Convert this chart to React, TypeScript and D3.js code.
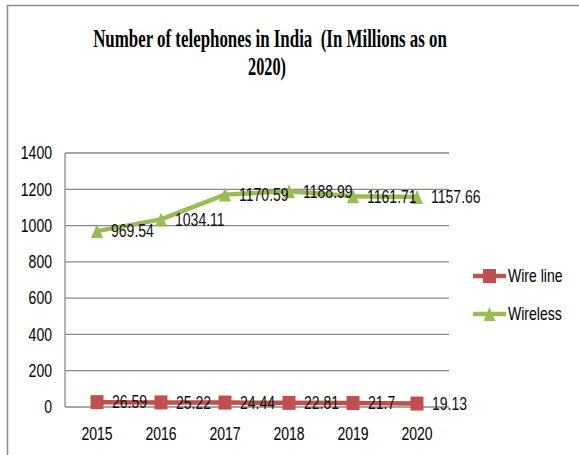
import React, { useLayoutEffect, useRef, useState } from "react";
import * as d3 from "d3";

const years = ["2015", "2016", "2017", "2018", "2019", "2020"];
const wireLine = [26.59, 25.22, 24.44, 22.81, 21.7, 19.13];
const wireless = [969.54, 1034.11, 1170.59, 1188.99, 1161.71, 1157.66];
const wirelessLabels = ["969.54", "1034.11", "1170.59", "1188.99", "1161.71", "1157.66"];
const wireLabels = ["26.59", "25.22", "24.44", "22.81", "21.7", "19.13"];
const yTicks = [0, 200, 400, 600, 800, 1000, 1200, 1400];
const seriesNames = ["Wire line", "Wireless"];
const titleLines = ["Number of telephones in India  (In Millions as on", "2020)"];

const W = 579, H = 455;
const left = 65, right = 449, top = 153, bottom = 407;
const RED = "#C0504D";
const GREEN = "#9BBB59";
const GRID = "#8a8a8a";
const FONT = "'Liberation Sans', Arial, sans-serif";
const SX = 0.78;

function T({ x, y, anchor = "start", children, fill = "#000", dy = "0.35em" }: any) {
  return (
    <g transform={`translate(${x},${y}) scale(${SX},1)`}>
      <text textAnchor={anchor} dy={dy} fontFamily={FONT} fontSize={18} fill={fill}>{children}</text>
    </g>
  );
}

function FitTitle({ x, y, width, children }: any) {
  const ref = useRef<SVGTextElement>(null);
  const [s, setS] = useState(1);
  useLayoutEffect(() => {
    if (ref.current) {
      const w = ref.current.getComputedTextLength();
      if (w > 0) setS(width / w);
    }
  }, [width]);
  return (
    <g transform={`translate(${x},${y}) scale(${s},1)`}>
      <text ref={ref} textAnchor="middle" fontFamily="'Liberation Serif', 'Times New Roman', serif" fontWeight="bold" fontSize={26} fill="#000" style={{ whiteSpace: "pre" }}>{children}</text>
    </g>
  );
}

export default function App() {
  const x = d3.scaleBand<string>().domain(years).range([left, right]);
  const y = d3.scaleLinear().domain([0, 1400]).range([bottom, top]);
  const cx = (yr: string) => (x(yr) as number) + x.bandwidth() / 2;
  const line = d3.line<number>().x((_, i) => cx(years[i])).y((d) => y(d));

  const tri = (px: number, py: number) => `M${px - 6},${py + 7} L${px},${py - 7} L${px + 6},${py + 7} Z`;

  return (
    <div style={{ position: "absolute", left: 0, top: 0 }}>
      <svg width={W} height={H} style={{ display: "block", background: "#fff" }}>
        <path d={`M7.5,${H} V5.5 H${W}`} fill="none" stroke="#8c8c8c" strokeWidth={1.5} />
        <FitTitle x={270} y={47} width={354}>{titleLines[0]}</FitTitle>
        <FitTitle x={267} y={75} width={38}>{titleLines[1]}</FitTitle>

        {yTicks.map((t) => (
          <g key={t}>
            {t > 0 && <line x1={left} x2={right} y1={y(t)} y2={y(t)} stroke={GRID} strokeWidth={1.3} />}
            <T x={52} y={y(t)} anchor="end">{t}</T>
          </g>
        ))}
        <line x1={left} x2={left} y1={top} y2={bottom} stroke={GRID} strokeWidth={1.3} />
        <line x1={left} x2={right} y1={bottom} y2={bottom} stroke={GRID} strokeWidth={1.3} />

        {years.map((yr) => (
          <T key={yr} x={cx(yr)} y={440} anchor="middle" dy="0">{yr}</T>
        ))}

        <path d={line(wireless) || ""} fill="none" stroke={GREEN} strokeWidth={4.5} strokeLinejoin="round" />
        {wireless.map((v, i) => (
          <path key={i} d={tri(cx(years[i]), y(v))} fill={GREEN} />
        ))}
        <path d={line(wireLine) || ""} fill="none" stroke={RED} strokeWidth={4.5} />
        {wireLine.map((v, i) => (
          <rect key={i} x={cx(years[i]) - 6.5} y={y(v) - 7} width={13} height={14} fill={RED} />
        ))}

        {wireless.map((v, i) => (
          <T key={i} x={cx(years[i]) + 14} y={y(v)} fill="#111">{wirelessLabels[i]}</T>
        ))}
        {wireLine.map((v, i) => (
          <T key={i} x={cx(years[i]) + 15} y={y(v)} fill="#111">{wireLabels[i]}</T>
        ))}

        {seriesNames.map((n, i) => {
          const ly = 276 + i * 38;
          const col = i === 0 ? RED : GREEN;
          return (
            <g key={n}>
              <line x1={473} x2={506} y1={ly} y2={ly} stroke={col} strokeWidth={4.5} />
              {i === 0 ? (
                <rect x={483} y={ly - 7} width={13} height={14} fill={col} />
              ) : (
                <path d={tri(489.5, ly)} fill={col} />
              )}
              <T x={508} y={ly}>{n}</T>
            </g>
          );
        })}
      </svg>
    </div>
  );
}
